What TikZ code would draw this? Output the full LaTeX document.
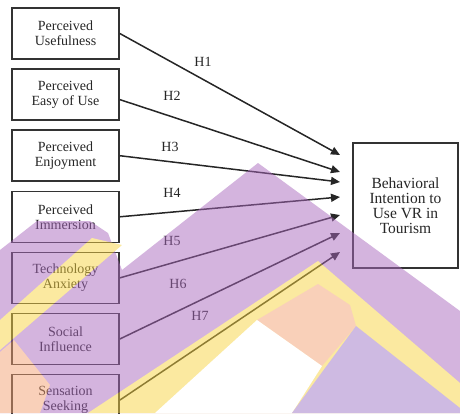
\documentclass[tikz,border=0pt]{standalone}
\usepackage{fontspec}
\setmainfont{Liberation Serif}
\usetikzlibrary{arrows.meta, positioning}

\definecolor{wmpurple}{RGB}{169,105,189}
\definecolor{wmyellow}{RGB}{247,211,65}
\definecolor{wmpeach}{RGB}{243,161,115}
\definecolor{wmlilac}{RGB}{157,117,197}

\begin{document}
\begin{tikzpicture}[
    x=1pt, y=-1pt,
    node distance=8.5pt,
    factor/.style={rectangle, draw=black!80, line width=1.6pt, minimum width=107pt, minimum height=51pt, align=center, text=black!85, font=\fontsize{14}{15}\selectfont},
    outcome/.style={factor, minimum width=105pt, minimum height=125pt, font=\fontsize{15.5}{15}\selectfont},
    hyparrow/.style={-{Triangle[length=9pt, width=8pt]}, line width=1.5pt, draw=black!85},
    hyplabel/.style={text=black!85, font=\fontsize{14}{15}\selectfont, inner sep=1pt},
]
\useasboundingbox (0,0) rectangle (460,413);

% constructs
\node[factor] (pu) at (65.5,33.5) {Perceived\\Usefulness};
\node[factor] (peou) [below=of pu]   {Perceived\\Easy of Use};
\node[factor] (pe)   [below=of peou] {Perceived\\Enjoyment};
\node[factor] (pim)  [below=of pe]   {Perceived\\Immersion};
\node[factor] (ta)   [below=of pim]  {Technology\\Anxiety};
\node[factor] (si)   [below=of ta]   {Social\\Influence};
\node[factor] (ss)   [below=of si]   {Sensation\\Seeking};
\node[outcome] (bi) at (405.5,205.5) {Behavioral\\Intention to\\Use VR in\\Tourism};

% arrow ends in front of the outcome box
\coordinate (t1) at (340,155);
\coordinate (t2) at (340,172);
\coordinate (t3) at (340,182);
\coordinate (t4) at (340,197);
\coordinate (t5) at (340,215);
\coordinate (t6) at (340,233);
\coordinate (t7) at (340,252);

\draw[hyparrow] (pu.east) -- (t1);
\draw[hyparrow] ([yshift=-5pt]peou.east) -- (t2);
\draw[hyparrow] (pe.east) -- (t3);
\draw[hyparrow] (pim.east) -- (t4);
\draw[hyparrow] (ta.east) -- (t5);
\draw[hyparrow] (si.east) -- (t6);
\draw[hyparrow] (ss.east) -- (t7);

% hypotheses
\node[hyplabel] (h1) at (203,62)  {H1};
\node[hyplabel] (h2) at (172,96)  {H2};
\node[hyplabel] (h3) at (170,147) {H3};
\node[hyplabel] (h4) at (172,193) {H4};
\node[hyplabel] (h5) at (172,241) {H5};
\node[hyplabel] (h6) at (178,284) {H6};
\node[hyplabel] (h7) at (200,316) {H7};

% watermark
\begin{scope}[transparency group, opacity=0.5]
\fill[wmpurple] (0,250) -- (37,221) -- (90,221) -- (108,233) -- (122,270) -- (258,163) -- (460,311) -- (460,413) -- (0,413) -- cycle;
\fill[wmyellow] (0,320) -- (92,238) -- (122,245) -- (0,350) -- cycle;
\fill[wmpeach] (0,352) -- (14,340) -- (50,385) -- (40,413) -- (0,413) -- cycle;
\fill[wmyellow] (88,413) -- (318,261) -- (460,383) -- (460,413) -- cycle;
\fill[wmpeach] (257,320) -- (318,284) -- (350,305) -- (356,326) -- (322,366) -- cycle;
\fill[white] (155,413) -- (257,320) -- (322,366) -- (292,413) -- cycle;
\fill[wmlilac] (356,326) -- (460,408) -- (460,413) -- (292,413) -- cycle;
\end{scope}
\end{tikzpicture}
\end{document}
